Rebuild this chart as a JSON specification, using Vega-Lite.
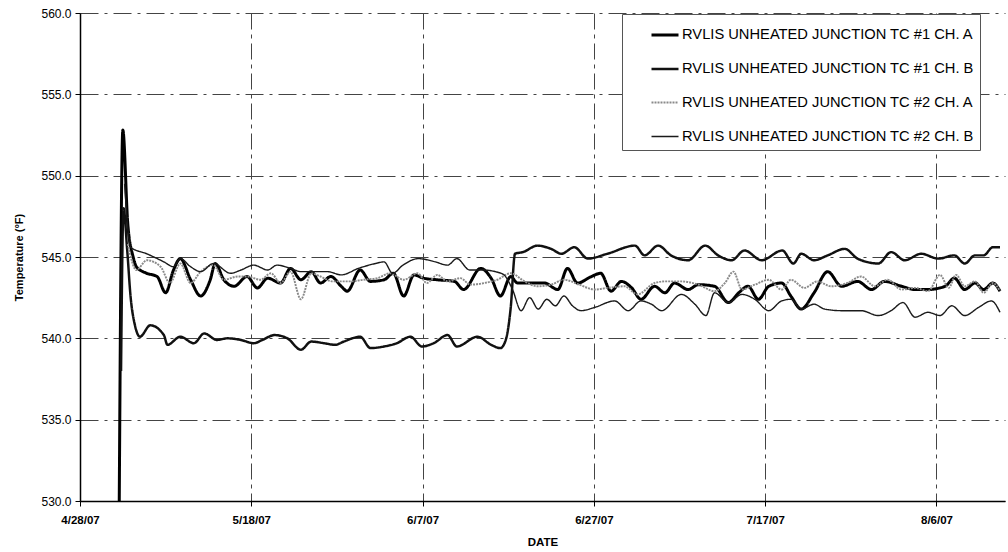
{
"$schema": "https://vega.github.io/schema/vega-lite/v6.json",
"width": 925, "height": 488,
"autosize": {"type": "none"},
"padding": {"left": 80, "top": 13, "right": 3, "bottom": 51},
"background": "white",
"config": {"view": {"stroke": null}, "font": "Liberation Sans"},
"data": {"values": [
{"s":"RVLIS UNHEATED JUNCTION TC #1 CH. A","t":"2007-05-02T14:00","v":530},
{"s":"RVLIS UNHEATED JUNCTION TC #1 CH. A","t":"2007-05-03T00:00","v":552.8},
{"s":"RVLIS UNHEATED JUNCTION TC #1 CH. A","t":"2007-05-03T14:00","v":547},
{"s":"RVLIS UNHEATED JUNCTION TC #1 CH. A","t":"2007-05-04T05:00","v":545.0},
{"s":"RVLIS UNHEATED JUNCTION TC #1 CH. A","t":"2007-05-04T14:00","v":544.4},
{"s":"RVLIS UNHEATED JUNCTION TC #1 CH. A","t":"2007-05-05T19:00","v":544.0},
{"s":"RVLIS UNHEATED JUNCTION TC #1 CH. A","t":"2007-05-07T00:00","v":543.8},
{"s":"RVLIS UNHEATED JUNCTION TC #1 CH. A","t":"2007-05-08T00:00","v":542.8},
{"s":"RVLIS UNHEATED JUNCTION TC #1 CH. A","t":"2007-05-08T22:00","v":544.2},
{"s":"RVLIS UNHEATED JUNCTION TC #1 CH. A","t":"2007-05-09T17:00","v":544.9},
{"s":"RVLIS UNHEATED JUNCTION TC #1 CH. A","t":"2007-05-10T22:00","v":543.6},
{"s":"RVLIS UNHEATED JUNCTION TC #1 CH. A","t":"2007-05-12T02:00","v":542.6},
{"s":"RVLIS UNHEATED JUNCTION TC #1 CH. A","t":"2007-05-13T05:00","v":543.6},
{"s":"RVLIS UNHEATED JUNCTION TC #1 CH. A","t":"2007-05-13T19:00","v":544.6},
{"s":"RVLIS UNHEATED JUNCTION TC #1 CH. A","t":"2007-05-14T19:00","v":543.6},
{"s":"RVLIS UNHEATED JUNCTION TC #1 CH. A","t":"2007-05-16T00:00","v":543.2},
{"s":"RVLIS UNHEATED JUNCTION TC #1 CH. A","t":"2007-05-17T12:00","v":543.8},
{"s":"RVLIS UNHEATED JUNCTION TC #1 CH. A","t":"2007-05-18T17:00","v":543.1},
{"s":"RVLIS UNHEATED JUNCTION TC #1 CH. A","t":"2007-05-19T22:00","v":543.7},
{"s":"RVLIS UNHEATED JUNCTION TC #1 CH. A","t":"2007-05-21T10:00","v":543.4},
{"s":"RVLIS UNHEATED JUNCTION TC #1 CH. A","t":"2007-05-22T14:00","v":544.3},
{"s":"RVLIS UNHEATED JUNCTION TC #1 CH. A","t":"2007-05-23T19:00","v":543.6},
{"s":"RVLIS UNHEATED JUNCTION TC #1 CH. A","t":"2007-05-25T00:00","v":544.1},
{"s":"RVLIS UNHEATED JUNCTION TC #1 CH. A","t":"2007-05-26T02:00","v":543.4},
{"s":"RVLIS UNHEATED JUNCTION TC #1 CH. A","t":"2007-05-27T07:00","v":543.8},
{"s":"RVLIS UNHEATED JUNCTION TC #1 CH. A","t":"2007-05-28T12:00","v":543.2},
{"s":"RVLIS UNHEATED JUNCTION TC #1 CH. A","t":"2007-05-29T05:00","v":542.9},
{"s":"RVLIS UNHEATED JUNCTION TC #1 CH. A","t":"2007-05-30T17:00","v":544.2},
{"s":"RVLIS UNHEATED JUNCTION TC #1 CH. A","t":"2007-05-31T22:00","v":543.5},
{"s":"RVLIS UNHEATED JUNCTION TC #1 CH. A","t":"2007-06-02T12:00","v":543.6},
{"s":"RVLIS UNHEATED JUNCTION TC #1 CH. A","t":"2007-06-03T14:00","v":544.0},
{"s":"RVLIS UNHEATED JUNCTION TC #1 CH. A","t":"2007-06-04T19:00","v":542.6},
{"s":"RVLIS UNHEATED JUNCTION TC #1 CH. A","t":"2007-06-06T00:00","v":543.9},
{"s":"RVLIS UNHEATED JUNCTION TC #1 CH. A","t":"2007-06-07T02:00","v":543.7},
{"s":"RVLIS UNHEATED JUNCTION TC #1 CH. A","t":"2007-06-08T17:00","v":543.6},
{"s":"RVLIS UNHEATED JUNCTION TC #1 CH. A","t":"2007-06-10T17:00","v":543.5},
{"s":"RVLIS UNHEATED JUNCTION TC #1 CH. A","t":"2007-06-11T19:00","v":543.0},
{"s":"RVLIS UNHEATED JUNCTION TC #1 CH. A","t":"2007-06-13T19:00","v":544.3},
{"s":"RVLIS UNHEATED JUNCTION TC #1 CH. A","t":"2007-06-15T00:00","v":543.7},
{"s":"RVLIS UNHEATED JUNCTION TC #1 CH. A","t":"2007-06-16T02:00","v":542.6},
{"s":"RVLIS UNHEATED JUNCTION TC #1 CH. A","t":"2007-06-17T07:00","v":543.8},
{"s":"RVLIS UNHEATED JUNCTION TC #1 CH. A","t":"2007-06-18T02:00","v":543.4},
{"s":"RVLIS UNHEATED JUNCTION TC #1 CH. A","t":"2007-06-19T14:00","v":543.4},
{"s":"RVLIS UNHEATED JUNCTION TC #1 CH. A","t":"2007-06-21T05:00","v":543.4},
{"s":"RVLIS UNHEATED JUNCTION TC #1 CH. A","t":"2007-06-22T19:00","v":543.0},
{"s":"RVLIS UNHEATED JUNCTION TC #1 CH. A","t":"2007-06-23T22:00","v":544.3},
{"s":"RVLIS UNHEATED JUNCTION TC #1 CH. A","t":"2007-06-25T02:00","v":543.4},
{"s":"RVLIS UNHEATED JUNCTION TC #1 CH. A","t":"2007-06-26T17:00","v":543.8},
{"s":"RVLIS UNHEATED JUNCTION TC #1 CH. A","t":"2007-06-27T19:00","v":544.0},
{"s":"RVLIS UNHEATED JUNCTION TC #1 CH. A","t":"2007-06-29T00:00","v":542.9},
{"s":"RVLIS UNHEATED JUNCTION TC #1 CH. A","t":"2007-06-30T05:00","v":543.5},
{"s":"RVLIS UNHEATED JUNCTION TC #1 CH. A","t":"2007-07-01T10:00","v":543.1},
{"s":"RVLIS UNHEATED JUNCTION TC #1 CH. A","t":"2007-07-02T12:00","v":542.4},
{"s":"RVLIS UNHEATED JUNCTION TC #1 CH. A","t":"2007-07-04T02:00","v":543.2},
{"s":"RVLIS UNHEATED JUNCTION TC #1 CH. A","t":"2007-07-05T07:00","v":542.8},
{"s":"RVLIS UNHEATED JUNCTION TC #1 CH. A","t":"2007-07-06T10:00","v":543.4},
{"s":"RVLIS UNHEATED JUNCTION TC #1 CH. A","t":"2007-07-08T00:00","v":543.0},
{"s":"RVLIS UNHEATED JUNCTION TC #1 CH. A","t":"2007-07-09T05:00","v":543.3},
{"s":"RVLIS UNHEATED JUNCTION TC #1 CH. A","t":"2007-07-11T02:00","v":543.2},
{"s":"RVLIS UNHEATED JUNCTION TC #1 CH. A","t":"2007-07-12T17:00","v":542.2},
{"s":"RVLIS UNHEATED JUNCTION TC #1 CH. A","t":"2007-07-13T22:00","v":542.8},
{"s":"RVLIS UNHEATED JUNCTION TC #1 CH. A","t":"2007-07-15T00:00","v":543.2},
{"s":"RVLIS UNHEATED JUNCTION TC #1 CH. A","t":"2007-07-16T05:00","v":542.4},
{"s":"RVLIS UNHEATED JUNCTION TC #1 CH. A","t":"2007-07-17T10:00","v":543.2},
{"s":"RVLIS UNHEATED JUNCTION TC #1 CH. A","t":"2007-07-18T22:00","v":543.4},
{"s":"RVLIS UNHEATED JUNCTION TC #1 CH. A","t":"2007-07-20T00:00","v":542.6},
{"s":"RVLIS UNHEATED JUNCTION TC #1 CH. A","t":"2007-07-21T05:00","v":541.8},
{"s":"RVLIS UNHEATED JUNCTION TC #1 CH. A","t":"2007-07-22T17:00","v":542.8},
{"s":"RVLIS UNHEATED JUNCTION TC #1 CH. A","t":"2007-07-24T07:00","v":544.1},
{"s":"RVLIS UNHEATED JUNCTION TC #1 CH. A","t":"2007-07-25T22:00","v":543.2},
{"s":"RVLIS UNHEATED JUNCTION TC #1 CH. A","t":"2007-07-27T19:00","v":543.5},
{"s":"RVLIS UNHEATED JUNCTION TC #1 CH. A","t":"2007-07-29T10:00","v":543.0},
{"s":"RVLIS UNHEATED JUNCTION TC #1 CH. A","t":"2007-07-30T22:00","v":543.5},
{"s":"RVLIS UNHEATED JUNCTION TC #1 CH. A","t":"2007-08-01T22:00","v":543.2},
{"s":"RVLIS UNHEATED JUNCTION TC #1 CH. A","t":"2007-08-03T12:00","v":543.0},
{"s":"RVLIS UNHEATED JUNCTION TC #1 CH. A","t":"2007-08-05T00:00","v":543.0},
{"s":"RVLIS UNHEATED JUNCTION TC #1 CH. A","t":"2007-08-07T00:00","v":543.2},
{"s":"RVLIS UNHEATED JUNCTION TC #1 CH. A","t":"2007-08-08T02:00","v":543.7},
{"s":"RVLIS UNHEATED JUNCTION TC #1 CH. A","t":"2007-08-09T07:00","v":543.0},
{"s":"RVLIS UNHEATED JUNCTION TC #1 CH. A","t":"2007-08-10T12:00","v":543.4},
{"s":"RVLIS UNHEATED JUNCTION TC #1 CH. A","t":"2007-08-11T12:00","v":543.0},
{"s":"RVLIS UNHEATED JUNCTION TC #1 CH. A","t":"2007-08-12T14:00","v":543.4},
{"s":"RVLIS UNHEATED JUNCTION TC #1 CH. A","t":"2007-08-13T10:00","v":542.9},

{"s":"RVLIS UNHEATED JUNCTION TC #1 CH. B","t":"2007-05-02T19:00","v":538.0},
{"s":"RVLIS UNHEATED JUNCTION TC #1 CH. B","t":"2007-05-03T02:00","v":548.0},
{"s":"RVLIS UNHEATED JUNCTION TC #1 CH. B","t":"2007-05-03T12:00","v":545.5},
{"s":"RVLIS UNHEATED JUNCTION TC #1 CH. B","t":"2007-05-03T22:00","v":542.5},
{"s":"RVLIS UNHEATED JUNCTION TC #1 CH. B","t":"2007-05-04T10:00","v":540.8},
{"s":"RVLIS UNHEATED JUNCTION TC #1 CH. B","t":"2007-05-05T00:00","v":540.1},
{"s":"RVLIS UNHEATED JUNCTION TC #1 CH. B","t":"2007-05-06T05:00","v":540.8},
{"s":"RVLIS UNHEATED JUNCTION TC #1 CH. B","t":"2007-05-07T19:00","v":540.2},
{"s":"RVLIS UNHEATED JUNCTION TC #1 CH. B","t":"2007-05-08T05:00","v":539.6},
{"s":"RVLIS UNHEATED JUNCTION TC #1 CH. B","t":"2007-05-09T17:00","v":540.1},
{"s":"RVLIS UNHEATED JUNCTION TC #1 CH. B","t":"2007-05-11T07:00","v":539.7},
{"s":"RVLIS UNHEATED JUNCTION TC #1 CH. B","t":"2007-05-12T12:00","v":540.3},
{"s":"RVLIS UNHEATED JUNCTION TC #1 CH. B","t":"2007-05-14T00:00","v":539.9},
{"s":"RVLIS UNHEATED JUNCTION TC #1 CH. B","t":"2007-05-15T05:00","v":540.0},
{"s":"RVLIS UNHEATED JUNCTION TC #1 CH. B","t":"2007-05-16T19:00","v":539.9},
{"s":"RVLIS UNHEATED JUNCTION TC #1 CH. B","t":"2007-05-18T07:00","v":539.7},
{"s":"RVLIS UNHEATED JUNCTION TC #1 CH. B","t":"2007-05-19T07:00","v":539.9},
{"s":"RVLIS UNHEATED JUNCTION TC #1 CH. B","t":"2007-05-20T17:00","v":540.2},
{"s":"RVLIS UNHEATED JUNCTION TC #1 CH. B","t":"2007-05-22T05:00","v":540.0},
{"s":"RVLIS UNHEATED JUNCTION TC #1 CH. B","t":"2007-05-23T19:00","v":539.3},
{"s":"RVLIS UNHEATED JUNCTION TC #1 CH. B","t":"2007-05-25T00:00","v":539.8},
{"s":"RVLIS UNHEATED JUNCTION TC #1 CH. B","t":"2007-05-26T12:00","v":539.7},
{"s":"RVLIS UNHEATED JUNCTION TC #1 CH. B","t":"2007-05-27T19:00","v":539.6},
{"s":"RVLIS UNHEATED JUNCTION TC #1 CH. B","t":"2007-05-28T19:00","v":539.8},
{"s":"RVLIS UNHEATED JUNCTION TC #1 CH. B","t":"2007-05-30T17:00","v":540.1},
{"s":"RVLIS UNHEATED JUNCTION TC #1 CH. B","t":"2007-05-31T22:00","v":539.4},
{"s":"RVLIS UNHEATED JUNCTION TC #1 CH. B","t":"2007-06-02T12:00","v":539.5},
{"s":"RVLIS UNHEATED JUNCTION TC #1 CH. B","t":"2007-06-04T00:00","v":539.7},
{"s":"RVLIS UNHEATED JUNCTION TC #1 CH. B","t":"2007-06-05T14:00","v":540.1},
{"s":"RVLIS UNHEATED JUNCTION TC #1 CH. B","t":"2007-06-06T22:00","v":539.5},
{"s":"RVLIS UNHEATED JUNCTION TC #1 CH. B","t":"2007-06-08T07:00","v":539.7},
{"s":"RVLIS UNHEATED JUNCTION TC #1 CH. B","t":"2007-06-09T22:00","v":540.2},
{"s":"RVLIS UNHEATED JUNCTION TC #1 CH. B","t":"2007-06-11T00:00","v":539.5},
{"s":"RVLIS UNHEATED JUNCTION TC #1 CH. B","t":"2007-06-13T10:00","v":540.1},
{"s":"RVLIS UNHEATED JUNCTION TC #1 CH. B","t":"2007-06-15T00:00","v":539.6},
{"s":"RVLIS UNHEATED JUNCTION TC #1 CH. B","t":"2007-06-16T02:00","v":539.4},
{"s":"RVLIS UNHEATED JUNCTION TC #1 CH. B","t":"2007-06-16T17:00","v":539.9},
{"s":"RVLIS UNHEATED JUNCTION TC #1 CH. B","t":"2007-06-17T07:00","v":541.9},
{"s":"RVLIS UNHEATED JUNCTION TC #1 CH. B","t":"2007-06-17T19:00","v":545.2},
{"s":"RVLIS UNHEATED JUNCTION TC #1 CH. B","t":"2007-06-18T17:00","v":545.3},
{"s":"RVLIS UNHEATED JUNCTION TC #1 CH. B","t":"2007-06-20T10:00","v":545.7},
{"s":"RVLIS UNHEATED JUNCTION TC #1 CH. B","t":"2007-06-22T00:00","v":545.5},
{"s":"RVLIS UNHEATED JUNCTION TC #1 CH. B","t":"2007-06-23T05:00","v":545.2},
{"s":"RVLIS UNHEATED JUNCTION TC #1 CH. B","t":"2007-06-24T17:00","v":545.6},
{"s":"RVLIS UNHEATED JUNCTION TC #1 CH. B","t":"2007-06-26T07:00","v":544.9},
{"s":"RVLIS UNHEATED JUNCTION TC #1 CH. B","t":"2007-06-28T14:00","v":545.2},
{"s":"RVLIS UNHEATED JUNCTION TC #1 CH. B","t":"2007-07-01T19:00","v":545.7},
{"s":"RVLIS UNHEATED JUNCTION TC #1 CH. B","t":"2007-07-02T22:00","v":545.1},
{"s":"RVLIS UNHEATED JUNCTION TC #1 CH. B","t":"2007-07-04T12:00","v":545.7},
{"s":"RVLIS UNHEATED JUNCTION TC #1 CH. B","t":"2007-07-06T00:00","v":545.1},
{"s":"RVLIS UNHEATED JUNCTION TC #1 CH. B","t":"2007-07-08T00:00","v":544.8},
{"s":"RVLIS UNHEATED JUNCTION TC #1 CH. B","t":"2007-07-10T00:00","v":545.7},
{"s":"RVLIS UNHEATED JUNCTION TC #1 CH. B","t":"2007-07-11T12:00","v":545.1},
{"s":"RVLIS UNHEATED JUNCTION TC #1 CH. B","t":"2007-07-13T02:00","v":544.8},
{"s":"RVLIS UNHEATED JUNCTION TC #1 CH. B","t":"2007-07-14T14:00","v":545.4},
{"s":"RVLIS UNHEATED JUNCTION TC #1 CH. B","t":"2007-07-16T14:00","v":544.8},
{"s":"RVLIS UNHEATED JUNCTION TC #1 CH. B","t":"2007-07-19T00:00","v":545.4},
{"s":"RVLIS UNHEATED JUNCTION TC #1 CH. B","t":"2007-07-20T07:00","v":544.6},
{"s":"RVLIS UNHEATED JUNCTION TC #1 CH. B","t":"2007-07-21T05:00","v":545.2},
{"s":"RVLIS UNHEATED JUNCTION TC #1 CH. B","t":"2007-07-22T17:00","v":544.8},
{"s":"RVLIS UNHEATED JUNCTION TC #1 CH. B","t":"2007-07-24T07:00","v":545.1},
{"s":"RVLIS UNHEATED JUNCTION TC #1 CH. B","t":"2007-07-26T07:00","v":545.5},
{"s":"RVLIS UNHEATED JUNCTION TC #1 CH. B","t":"2007-07-27T19:00","v":544.9},
{"s":"RVLIS UNHEATED JUNCTION TC #1 CH. B","t":"2007-07-30T05:00","v":544.6},
{"s":"RVLIS UNHEATED JUNCTION TC #1 CH. B","t":"2007-07-31T17:00","v":545.3},
{"s":"RVLIS UNHEATED JUNCTION TC #1 CH. B","t":"2007-08-02T07:00","v":544.8},
{"s":"RVLIS UNHEATED JUNCTION TC #1 CH. B","t":"2007-08-04T05:00","v":545.2},
{"s":"RVLIS UNHEATED JUNCTION TC #1 CH. B","t":"2007-08-06T05:00","v":544.9},
{"s":"RVLIS UNHEATED JUNCTION TC #1 CH. B","t":"2007-08-08T02:00","v":545.1},
{"s":"RVLIS UNHEATED JUNCTION TC #1 CH. B","t":"2007-08-09T07:00","v":544.6},
{"s":"RVLIS UNHEATED JUNCTION TC #1 CH. B","t":"2007-08-10T12:00","v":545.1},
{"s":"RVLIS UNHEATED JUNCTION TC #1 CH. B","t":"2007-08-11T12:00","v":545.1},
{"s":"RVLIS UNHEATED JUNCTION TC #1 CH. B","t":"2007-08-12T14:00","v":545.6},
{"s":"RVLIS UNHEATED JUNCTION TC #1 CH. B","t":"2007-08-13T10:00","v":545.6},

{"s":"RVLIS UNHEATED JUNCTION TC #2 CH. A","t":"2007-05-03T14:00","v":545.8},
{"s":"RVLIS UNHEATED JUNCTION TC #2 CH. A","t":"2007-05-04T14:00","v":544.2},
{"s":"RVLIS UNHEATED JUNCTION TC #2 CH. A","t":"2007-05-05T19:00","v":544.8},
{"s":"RVLIS UNHEATED JUNCTION TC #2 CH. A","t":"2007-05-07T10:00","v":544.4},
{"s":"RVLIS UNHEATED JUNCTION TC #2 CH. A","t":"2007-05-08T12:00","v":543.4},
{"s":"RVLIS UNHEATED JUNCTION TC #2 CH. A","t":"2007-05-09T17:00","v":544.6},
{"s":"RVLIS UNHEATED JUNCTION TC #2 CH. A","t":"2007-05-10T22:00","v":543.4},
{"s":"RVLIS UNHEATED JUNCTION TC #2 CH. A","t":"2007-05-12T02:00","v":544.1},
{"s":"RVLIS UNHEATED JUNCTION TC #2 CH. A","t":"2007-05-13T14:00","v":544.5},
{"s":"RVLIS UNHEATED JUNCTION TC #2 CH. A","t":"2007-05-14T19:00","v":543.6},
{"s":"RVLIS UNHEATED JUNCTION TC #2 CH. A","t":"2007-05-16T10:00","v":543.8},
{"s":"RVLIS UNHEATED JUNCTION TC #2 CH. A","t":"2007-05-17T12:00","v":543.8},
{"s":"RVLIS UNHEATED JUNCTION TC #2 CH. A","t":"2007-05-19T02:00","v":543.6},
{"s":"RVLIS UNHEATED JUNCTION TC #2 CH. A","t":"2007-05-20T07:00","v":544.0},
{"s":"RVLIS UNHEATED JUNCTION TC #2 CH. A","t":"2007-05-21T10:00","v":543.4},
{"s":"RVLIS UNHEATED JUNCTION TC #2 CH. A","t":"2007-05-22T14:00","v":544.1},
{"s":"RVLIS UNHEATED JUNCTION TC #2 CH. A","t":"2007-05-23T19:00","v":542.4},
{"s":"RVLIS UNHEATED JUNCTION TC #2 CH. A","t":"2007-05-25T00:00","v":544.0},
{"s":"RVLIS UNHEATED JUNCTION TC #2 CH. A","t":"2007-05-26T02:00","v":543.8},
{"s":"RVLIS UNHEATED JUNCTION TC #2 CH. A","t":"2007-05-27T12:00","v":543.5},
{"s":"RVLIS UNHEATED JUNCTION TC #2 CH. A","t":"2007-05-29T12:00","v":543.5},
{"s":"RVLIS UNHEATED JUNCTION TC #2 CH. A","t":"2007-05-31T02:00","v":543.6},
{"s":"RVLIS UNHEATED JUNCTION TC #2 CH. A","t":"2007-06-01T17:00","v":543.7},
{"s":"RVLIS UNHEATED JUNCTION TC #2 CH. A","t":"2007-06-03T05:00","v":544.0},
{"s":"RVLIS UNHEATED JUNCTION TC #2 CH. A","t":"2007-06-04T19:00","v":543.6},
{"s":"RVLIS UNHEATED JUNCTION TC #2 CH. A","t":"2007-06-06T10:00","v":544.0},
{"s":"RVLIS UNHEATED JUNCTION TC #2 CH. A","t":"2007-06-07T12:00","v":543.4},
{"s":"RVLIS UNHEATED JUNCTION TC #2 CH. A","t":"2007-06-08T17:00","v":543.9},
{"s":"RVLIS UNHEATED JUNCTION TC #2 CH. A","t":"2007-06-09T22:00","v":543.5},
{"s":"RVLIS UNHEATED JUNCTION TC #2 CH. A","t":"2007-06-11T10:00","v":543.7},
{"s":"RVLIS UNHEATED JUNCTION TC #2 CH. A","t":"2007-06-12T14:00","v":543.3},
{"s":"RVLIS UNHEATED JUNCTION TC #2 CH. A","t":"2007-06-14T05:00","v":543.4},
{"s":"RVLIS UNHEATED JUNCTION TC #2 CH. A","t":"2007-06-15T17:00","v":543.6},
{"s":"RVLIS UNHEATED JUNCTION TC #2 CH. A","t":"2007-06-17T07:00","v":544.0},
{"s":"RVLIS UNHEATED JUNCTION TC #2 CH. A","t":"2007-06-18T22:00","v":543.5},
{"s":"RVLIS UNHEATED JUNCTION TC #2 CH. A","t":"2007-06-20T10:00","v":543.2},
{"s":"RVLIS UNHEATED JUNCTION TC #2 CH. A","t":"2007-06-22T00:00","v":543.3},
{"s":"RVLIS UNHEATED JUNCTION TC #2 CH. A","t":"2007-06-23T12:00","v":543.6},
{"s":"RVLIS UNHEATED JUNCTION TC #2 CH. A","t":"2007-06-25T07:00","v":543.3},
{"s":"RVLIS UNHEATED JUNCTION TC #2 CH. A","t":"2007-06-27T02:00","v":543.0},
{"s":"RVLIS UNHEATED JUNCTION TC #2 CH. A","t":"2007-06-28T14:00","v":543.1},
{"s":"RVLIS UNHEATED JUNCTION TC #2 CH. A","t":"2007-06-30T14:00","v":543.2},
{"s":"RVLIS UNHEATED JUNCTION TC #2 CH. A","t":"2007-07-02T02:00","v":542.7},
{"s":"RVLIS UNHEATED JUNCTION TC #2 CH. A","t":"2007-07-04T02:00","v":543.4},
{"s":"RVLIS UNHEATED JUNCTION TC #2 CH. A","t":"2007-07-05T07:00","v":543.5},
{"s":"RVLIS UNHEATED JUNCTION TC #2 CH. A","t":"2007-07-07T05:00","v":543.5},
{"s":"RVLIS UNHEATED JUNCTION TC #2 CH. A","t":"2007-07-09T05:00","v":543.3},
{"s":"RVLIS UNHEATED JUNCTION TC #2 CH. A","t":"2007-07-11T02:00","v":542.9},
{"s":"RVLIS UNHEATED JUNCTION TC #2 CH. A","t":"2007-07-12T07:00","v":543.4},
{"s":"RVLIS UNHEATED JUNCTION TC #2 CH. A","t":"2007-07-13T07:00","v":544.1},
{"s":"RVLIS UNHEATED JUNCTION TC #2 CH. A","t":"2007-07-14T07:00","v":543.0},
{"s":"RVLIS UNHEATED JUNCTION TC #2 CH. A","t":"2007-07-15T19:00","v":543.3},
{"s":"RVLIS UNHEATED JUNCTION TC #2 CH. A","t":"2007-07-17T10:00","v":543.6},
{"s":"RVLIS UNHEATED JUNCTION TC #2 CH. A","t":"2007-07-18T22:00","v":543.0},
{"s":"RVLIS UNHEATED JUNCTION TC #2 CH. A","t":"2007-07-20T00:00","v":543.6},
{"s":"RVLIS UNHEATED JUNCTION TC #2 CH. A","t":"2007-07-21T14:00","v":543.1},
{"s":"RVLIS UNHEATED JUNCTION TC #2 CH. A","t":"2007-07-23T02:00","v":543.5},
{"s":"RVLIS UNHEATED JUNCTION TC #2 CH. A","t":"2007-07-24T17:00","v":543.2},
{"s":"RVLIS UNHEATED JUNCTION TC #2 CH. A","t":"2007-07-26T14:00","v":543.4},
{"s":"RVLIS UNHEATED JUNCTION TC #2 CH. A","t":"2007-07-28T05:00","v":543.8},
{"s":"RVLIS UNHEATED JUNCTION TC #2 CH. A","t":"2007-07-29T19:00","v":543.2},
{"s":"RVLIS UNHEATED JUNCTION TC #2 CH. A","t":"2007-07-31T07:00","v":543.6},
{"s":"RVLIS UNHEATED JUNCTION TC #2 CH. A","t":"2007-08-01T22:00","v":543.0},
{"s":"RVLIS UNHEATED JUNCTION TC #2 CH. A","t":"2007-08-03T12:00","v":543.1},
{"s":"RVLIS UNHEATED JUNCTION TC #2 CH. A","t":"2007-08-05T00:00","v":542.9},
{"s":"RVLIS UNHEATED JUNCTION TC #2 CH. A","t":"2007-08-06T10:00","v":543.9},
{"s":"RVLIS UNHEATED JUNCTION TC #2 CH. A","t":"2007-08-07T10:00","v":543.1},
{"s":"RVLIS UNHEATED JUNCTION TC #2 CH. A","t":"2007-08-08T07:00","v":543.9},
{"s":"RVLIS UNHEATED JUNCTION TC #2 CH. A","t":"2007-08-09T07:00","v":543.2},
{"s":"RVLIS UNHEATED JUNCTION TC #2 CH. A","t":"2007-08-10T12:00","v":543.5},
{"s":"RVLIS UNHEATED JUNCTION TC #2 CH. A","t":"2007-08-11T12:00","v":542.8},
{"s":"RVLIS UNHEATED JUNCTION TC #2 CH. A","t":"2007-08-12T14:00","v":543.4},
{"s":"RVLIS UNHEATED JUNCTION TC #2 CH. A","t":"2007-08-13T10:00","v":542.9},

{"s":"RVLIS UNHEATED JUNCTION TC #2 CH. B","t":"2007-05-03T05:00","v":549.5},
{"s":"RVLIS UNHEATED JUNCTION TC #2 CH. B","t":"2007-05-03T22:00","v":545.6},
{"s":"RVLIS UNHEATED JUNCTION TC #2 CH. B","t":"2007-05-05T19:00","v":545.2},
{"s":"RVLIS UNHEATED JUNCTION TC #2 CH. B","t":"2007-05-07T19:00","v":544.7},
{"s":"RVLIS UNHEATED JUNCTION TC #2 CH. B","t":"2007-05-08T22:00","v":544.4},
{"s":"RVLIS UNHEATED JUNCTION TC #2 CH. B","t":"2007-05-09T17:00","v":544.9},
{"s":"RVLIS UNHEATED JUNCTION TC #2 CH. B","t":"2007-05-10T22:00","v":544.4},
{"s":"RVLIS UNHEATED JUNCTION TC #2 CH. B","t":"2007-05-12T02:00","v":544.1},
{"s":"RVLIS UNHEATED JUNCTION TC #2 CH. B","t":"2007-05-13T14:00","v":544.6},
{"s":"RVLIS UNHEATED JUNCTION TC #2 CH. B","t":"2007-05-15T14:00","v":544.0},
{"s":"RVLIS UNHEATED JUNCTION TC #2 CH. B","t":"2007-05-16T19:00","v":544.2},
{"s":"RVLIS UNHEATED JUNCTION TC #2 CH. B","t":"2007-05-18T07:00","v":544.5},
{"s":"RVLIS UNHEATED JUNCTION TC #2 CH. B","t":"2007-05-19T22:00","v":544.2},
{"s":"RVLIS UNHEATED JUNCTION TC #2 CH. B","t":"2007-05-21T00:00","v":544.5},
{"s":"RVLIS UNHEATED JUNCTION TC #2 CH. B","t":"2007-05-22T14:00","v":544.3},
{"s":"RVLIS UNHEATED JUNCTION TC #2 CH. B","t":"2007-05-23T19:00","v":544.1},
{"s":"RVLIS UNHEATED JUNCTION TC #2 CH. B","t":"2007-05-25T07:00","v":544.1},
{"s":"RVLIS UNHEATED JUNCTION TC #2 CH. B","t":"2007-05-26T22:00","v":544.1},
{"s":"RVLIS UNHEATED JUNCTION TC #2 CH. B","t":"2007-05-28T12:00","v":543.9},
{"s":"RVLIS UNHEATED JUNCTION TC #2 CH. B","t":"2007-05-30T12:00","v":544.3},
{"s":"RVLIS UNHEATED JUNCTION TC #2 CH. B","t":"2007-06-01T12:00","v":544.6},
{"s":"RVLIS UNHEATED JUNCTION TC #2 CH. B","t":"2007-06-02T12:00","v":544.7},
{"s":"RVLIS UNHEATED JUNCTION TC #2 CH. B","t":"2007-06-03T12:00","v":544.0},
{"s":"RVLIS UNHEATED JUNCTION TC #2 CH. B","t":"2007-06-04T17:00","v":544.5},
{"s":"RVLIS UNHEATED JUNCTION TC #2 CH. B","t":"2007-06-06T12:00","v":544.9},
{"s":"RVLIS UNHEATED JUNCTION TC #2 CH. B","t":"2007-06-08T12:00","v":544.7},
{"s":"RVLIS UNHEATED JUNCTION TC #2 CH. B","t":"2007-06-09T22:00","v":544.5},
{"s":"RVLIS UNHEATED JUNCTION TC #2 CH. B","t":"2007-06-11T00:00","v":544.9},
{"s":"RVLIS UNHEATED JUNCTION TC #2 CH. B","t":"2007-06-12T12:00","v":544.2},
{"s":"RVLIS UNHEATED JUNCTION TC #2 CH. B","t":"2007-06-14T00:00","v":544.2},
{"s":"RVLIS UNHEATED JUNCTION TC #2 CH. B","t":"2007-06-15T12:00","v":544.1},
{"s":"RVLIS UNHEATED JUNCTION TC #2 CH. B","t":"2007-06-16T12:00","v":543.9},
{"s":"RVLIS UNHEATED JUNCTION TC #2 CH. B","t":"2007-06-17T12:00","v":543.0},
{"s":"RVLIS UNHEATED JUNCTION TC #2 CH. B","t":"2007-06-18T12:00","v":541.7},
{"s":"RVLIS UNHEATED JUNCTION TC #2 CH. B","t":"2007-06-19T12:00","v":542.5},
{"s":"RVLIS UNHEATED JUNCTION TC #2 CH. B","t":"2007-06-20T12:00","v":541.8},
{"s":"RVLIS UNHEATED JUNCTION TC #2 CH. B","t":"2007-06-21T12:00","v":542.4},
{"s":"RVLIS UNHEATED JUNCTION TC #2 CH. B","t":"2007-06-22T12:00","v":542.0},
{"s":"RVLIS UNHEATED JUNCTION TC #2 CH. B","t":"2007-06-23T12:00","v":542.6},
{"s":"RVLIS UNHEATED JUNCTION TC #2 CH. B","t":"2007-06-24T12:00","v":542.0},
{"s":"RVLIS UNHEATED JUNCTION TC #2 CH. B","t":"2007-06-25T12:00","v":541.7},
{"s":"RVLIS UNHEATED JUNCTION TC #2 CH. B","t":"2007-06-27T02:00","v":541.9},
{"s":"RVLIS UNHEATED JUNCTION TC #2 CH. B","t":"2007-06-29T10:00","v":542.3},
{"s":"RVLIS UNHEATED JUNCTION TC #2 CH. B","t":"2007-07-01T00:00","v":541.7},
{"s":"RVLIS UNHEATED JUNCTION TC #2 CH. B","t":"2007-07-02T12:00","v":542.3},
{"s":"RVLIS UNHEATED JUNCTION TC #2 CH. B","t":"2007-07-03T17:00","v":542.1},
{"s":"RVLIS UNHEATED JUNCTION TC #2 CH. B","t":"2007-07-04T22:00","v":541.7},
{"s":"RVLIS UNHEATED JUNCTION TC #2 CH. B","t":"2007-07-07T05:00","v":542.7},
{"s":"RVLIS UNHEATED JUNCTION TC #2 CH. B","t":"2007-07-08T19:00","v":542.1},
{"s":"RVLIS UNHEATED JUNCTION TC #2 CH. B","t":"2007-07-10T02:00","v":541.4},
{"s":"RVLIS UNHEATED JUNCTION TC #2 CH. B","t":"2007-07-11T02:00","v":542.8},
{"s":"RVLIS UNHEATED JUNCTION TC #2 CH. B","t":"2007-07-12T17:00","v":542.2},
{"s":"RVLIS UNHEATED JUNCTION TC #2 CH. B","t":"2007-07-14T07:00","v":542.7},
{"s":"RVLIS UNHEATED JUNCTION TC #2 CH. B","t":"2007-07-15T19:00","v":542.4},
{"s":"RVLIS UNHEATED JUNCTION TC #2 CH. B","t":"2007-07-17T10:00","v":541.7},
{"s":"RVLIS UNHEATED JUNCTION TC #2 CH. B","t":"2007-07-18T22:00","v":542.3},
{"s":"RVLIS UNHEATED JUNCTION TC #2 CH. B","t":"2007-07-20T00:00","v":542.4},
{"s":"RVLIS UNHEATED JUNCTION TC #2 CH. B","t":"2007-07-21T05:00","v":541.8},
{"s":"RVLIS UNHEATED JUNCTION TC #2 CH. B","t":"2007-07-22T17:00","v":542.1},
{"s":"RVLIS UNHEATED JUNCTION TC #2 CH. B","t":"2007-07-23T22:00","v":541.8},
{"s":"RVLIS UNHEATED JUNCTION TC #2 CH. B","t":"2007-07-25T22:00","v":541.7},
{"s":"RVLIS UNHEATED JUNCTION TC #2 CH. B","t":"2007-07-28T05:00","v":541.7},
{"s":"RVLIS UNHEATED JUNCTION TC #2 CH. B","t":"2007-07-30T05:00","v":541.4},
{"s":"RVLIS UNHEATED JUNCTION TC #2 CH. B","t":"2007-07-31T17:00","v":541.7},
{"s":"RVLIS UNHEATED JUNCTION TC #2 CH. B","t":"2007-08-02T02:00","v":542.2},
{"s":"RVLIS UNHEATED JUNCTION TC #2 CH. B","t":"2007-08-03T12:00","v":541.3},
{"s":"RVLIS UNHEATED JUNCTION TC #2 CH. B","t":"2007-08-05T00:00","v":541.6},
{"s":"RVLIS UNHEATED JUNCTION TC #2 CH. B","t":"2007-08-06T10:00","v":541.4},
{"s":"RVLIS UNHEATED JUNCTION TC #2 CH. B","t":"2007-08-07T19:00","v":542.0},
{"s":"RVLIS UNHEATED JUNCTION TC #2 CH. B","t":"2007-08-09T07:00","v":541.4},
{"s":"RVLIS UNHEATED JUNCTION TC #2 CH. B","t":"2007-08-10T22:00","v":541.9},
{"s":"RVLIS UNHEATED JUNCTION TC #2 CH. B","t":"2007-08-12T10:00","v":542.3},
{"s":"RVLIS UNHEATED JUNCTION TC #2 CH. B","t":"2007-08-13T10:00","v":541.6}
]},
"mark": {"type": "line", "interpolate": "monotone", "clip": true},
"encoding": {
  "x": {"field": "t", "type": "temporal",
    "scale": {"domain": [{"year": 2007, "month": 4, "date": 28}, {"year": 2007, "month": 8, "date": 14}]},
    "axis": {"values": [{"year": 2007, "month": 4, "date": 28}, {"year": 2007, "month": 5, "date": 18}, {"year": 2007, "month": 6, "date": 7}, {"year": 2007, "month": 6, "date": 27}, {"year": 2007, "month": 7, "date": 17}, {"year": 2007, "month": 8, "date": 6}],
      "format": "%-m/%-d/%y", "title": "DATE", "labelFont": "Liberation Sans", "labelFontSize": 11.5, "labelColor": "black", "labelFontWeight": "bold",
      "titleFont": "Liberation Sans", "titleFontSize": 11.5, "titleFontWeight": "bold", "titleColor": "black", "titlePadding": 11,
      "grid": true, "gridColor": "#444", "gridDash": [16, 5, 4, 5], "gridWidth": 1,
      "domainColor": "black", "domainWidth": 1.5, "tickColor": "black", "tickSize": 5, "labelPadding": 8, "labelFlush": false}},
  "y": {"field": "v", "type": "quantitative",
    "scale": {"domain": [530, 560], "nice": false, "zero": false},
    "axis": {"values": [530, 535, 540, 545, 550, 555, 560], "format": ".1f", "title": "Temperature (°F)",
      "labelFont": "Liberation Sans", "labelFontSize": 12, "labelColor": "black",
      "titleFont": "Liberation Sans", "titleFontSize": 11, "titleFontWeight": "bold", "titleColor": "black", "titlePadding": 16,
      "grid": true, "gridColor": "#444", "gridDash": [18, 6, 3, 6], "gridWidth": 1,
      "domainColor": "black", "domainWidth": 1.5, "tickColor": "black", "tickSize": 5, "labelPadding": 4}},
  "color": {"field": "s", "type": "ordinal",
    "scale": {"domain": ["RVLIS UNHEATED JUNCTION TC #1 CH. A", "RVLIS UNHEATED JUNCTION TC #1 CH. B", "RVLIS UNHEATED JUNCTION TC #2 CH. A", "RVLIS UNHEATED JUNCTION TC #2 CH. B"], "range": ["#000000", "#111111", "#8a8a8a", "#1a1a1a"]},
    "legend": {"title": null, "orient": "none", "legendX": 542, "legendY": 1, "fillColor": "white", "strokeColor": "#555", "padding": 6,
      "symbolType": "stroke", "symbolSize": 729, "symbolOffset": 22, "labelOffset": 2, "rowPadding": 12,
      "labelFont": "Liberation Sans", "labelFontSize": 14.7, "labelColor": "black", "labelLimit": 400}},
  "strokeDash": {"field": "s", "type": "ordinal",
    "scale": {"domain": ["RVLIS UNHEATED JUNCTION TC #1 CH. A", "RVLIS UNHEATED JUNCTION TC #1 CH. B", "RVLIS UNHEATED JUNCTION TC #2 CH. A", "RVLIS UNHEATED JUNCTION TC #2 CH. B"], "range": [[1, 0], [1, 0], [2, 1], [1, 0]]}},
  "strokeWidth": {"field": "s", "type": "ordinal",
    "scale": {"domain": ["RVLIS UNHEATED JUNCTION TC #1 CH. A", "RVLIS UNHEATED JUNCTION TC #1 CH. B", "RVLIS UNHEATED JUNCTION TC #2 CH. A", "RVLIS UNHEATED JUNCTION TC #2 CH. B"], "range": [3, 1.4, 1.6, 1.8]}}
}
}
